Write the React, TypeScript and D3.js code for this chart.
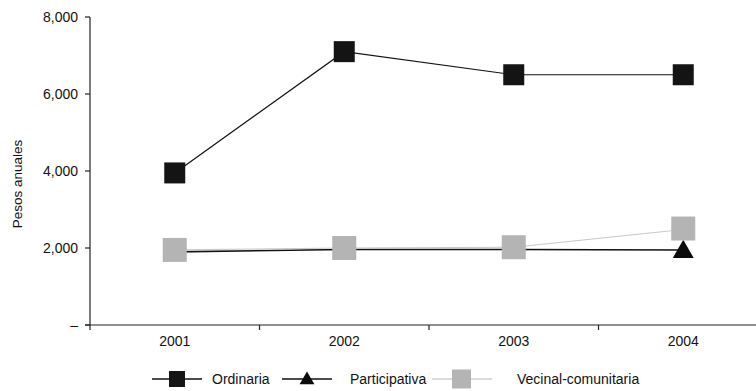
import React from "react";
import * as d3 from "d3";

// Costo anual por niño según tipo de guardería, 2001-2004
const years = ["2001", "2002", "2003", "2004"];
const ordinaria = [3950, 7100, 6500, 6500];
const participativa = [1900, 1960, 1960, 1950];
const vecinal = [1950, 2000, 2020, 2480];
const yTicks = [0, 2000, 4000, 6000, 8000];
const seriesNames = ["Ordinaria", "Participativa", "Vecinal-comunitaria"];

const W = 756;
const H = 391;
const FONT = "'Liberation Sans', Arial, sans-serif";

export default function App() {
  const x = d3.scaleBand<string>().domain(years).range([90, 768]).padding(0);
  const y = d3.scaleLinear().domain([0, 8000]).range([325, 17]);
  const cx = (d: string) => (x(d) as number) + x.bandwidth() / 2;
  const line = d3
    .line<number>()
    .x((_, i) => cx(years[i]))
    .y((v) => y(v));
  const fmt = (v: number) => (v === 0 ? "–" : d3.format(",")(v));
  const tri = d3.symbol(d3.symbolTriangle, 190)();
  const triLegend = d3.symbol(d3.symbolTriangle, 95)();

  return (
    <svg
      width={W}
      height={H}
      style={{ position: "absolute", left: 0, top: 0, background: "#fff" }}
      fontFamily={FONT}
    >
      {/* y axis */}
      <line x1={90} x2={90} y1={y(8000)} y2={y(0)} stroke="#222" strokeWidth={1.2} />
      {yTicks.map((t) => (
        <g key={t}>
          <line x1={85} x2={90} y1={y(t)} y2={y(t)} stroke="#222" strokeWidth={1.2} />
          <text x={78} y={y(t)} dy="0.35em" textAnchor="end" fontSize={14} fill="#111">
            {fmt(t)}
          </text>
        </g>
      ))}
      <text
        transform={`translate(17,${184}) rotate(-90)`}
        textAnchor="middle"
        dy="0.35em"
        fontSize={13.5}
        fill="#111"
      >
        Pesos anuales
      </text>

      {/* x axis */}
      <line x1={85} x2={W} y1={y(0)} y2={y(0)} stroke="#222" strokeWidth={1.2} />
      {years.map((yr) => (
        <g key={yr}>
          <line
            x1={x(yr) as number}
            x2={x(yr) as number}
            y1={y(0)}
            y2={y(0) + 5}
            stroke="#222"
            strokeWidth={1.2}
          />
          <text x={cx(yr)} y={346} textAnchor="middle" fontSize={14} fill="#111">
            {yr}
          </text>
        </g>
      ))}

      {/* Ordinaria */}
      <path d={line(ordinaria) ?? ""} fill="none" stroke="#111" strokeWidth={1.2} />
      {ordinaria.map((v, i) => (
        <rect
          key={i}
          x={cx(years[i]) - 10.5}
          y={y(v) - 10.5}
          width={21}
          height={21}
          fill="#141414"
        />
      ))}

      {/* Participativa */}
      <path d={line(participativa) ?? ""} fill="none" stroke="#111" strokeWidth={1.6} />
      {participativa.map((v, i) => (
        <path
          key={i}
          d={tri ?? ""}
          transform={`translate(${cx(years[i])},${y(v) + 2})`}
          fill="#0c0c0c"
        />
      ))}

      {/* Vecinal-comunitaria */}
      <path d={line(vecinal) ?? ""} fill="none" stroke="#c9c9c9" strokeWidth={1.2} />
      {vecinal.map((v, i) => (
        <rect
          key={i}
          x={cx(years[i]) - 12}
          y={y(v) - (i === 3 ? 13 : 12)}
          width={24}
          height={24}
          fill="#b4b4b4"
        />
      ))}

      {/* legend */}
      <g transform="translate(0,379)">
        <line x1={152} x2={202} y1={0} y2={0} stroke="#111" strokeWidth={1.5} />
        <rect x={169} y={-8} width={16} height={16} fill="#141414" />
        <text x={212} y={0} dy="0.35em" fontSize={14} fill="#111">
          {seriesNames[0]}
        </text>

        <line x1={282} x2={332} y1={0} y2={0} stroke="#111" strokeWidth={1.5} />
        <path d={triLegend ?? ""} transform="translate(307,1)" fill="#0c0c0c" />
        <text x={350} y={0} dy="0.35em" fontSize={14} fill="#111">
          {seriesNames[1]}
        </text>

        <line x1={432} x2={492} y1={0} y2={0} stroke="#cfcfcf" strokeWidth={1.5} />
        <rect x={452} y={-9.5} width={19} height={19} fill="#b4b4b4" />
        <text x={517} y={0} dy="0.35em" fontSize={14} fill="#111">
          {seriesNames[2]}
        </text>
      </g>
    </svg>
  );
}
